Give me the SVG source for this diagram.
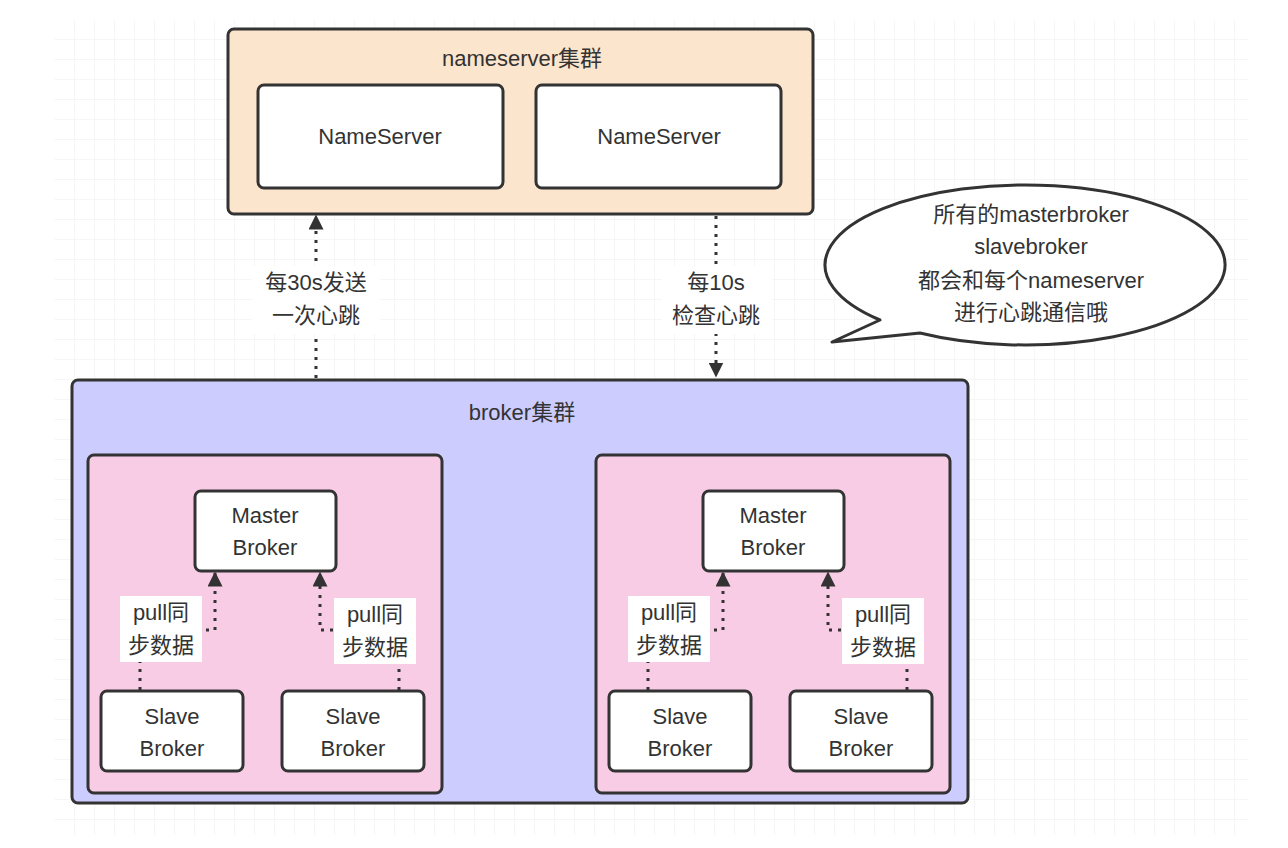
<svg xmlns="http://www.w3.org/2000/svg" width="1288" height="848" viewBox="0 0 1288 848">
<defs>
<pattern id="g" width="20" height="20" patternUnits="userSpaceOnUse" x="55" y="20"><path d="M20 0V20M0 20H20" fill="none" stroke="#ececec" stroke-width="1"/></pattern>
<marker id="a" viewBox="0 0 10 10" refX="9" refY="5" markerWidth="5" markerHeight="5" orient="auto"><path d="M0 0L10 5L0 10z" fill="#333"/></marker>
<style>
text{font-family:"Liberation Sans","Noto Sans CJK SC",sans-serif;font-size:22px;fill:#333;text-anchor:middle}
.b{stroke:#333;stroke-width:3}
.w{fill:#fff}
.c{fill:none;stroke:#333;stroke-width:3;stroke-dasharray:3 6;marker-end:url(#a)}
.lb{fill:#fff}
</style>
</defs>
<rect width="1288" height="848" fill="#fff"/>
<rect x="55" y="20" width="1193" height="815" fill="url(#g)"/>
<g id="nameserver-cluster"><rect class="b" x="228" y="29" width="585" height="185" rx="6" fill="#fce5cd"/><text x="522" y="66">nameserver集群</text></g>
<g id="ns1"><rect class="b w" x="258" y="85" width="245" height="103" rx="6"/><text x="380" y="144">NameServer</text></g>
<g id="ns2"><rect class="b w" x="536" y="85" width="245" height="103" rx="6"/><text x="659" y="144">NameServer</text></g>
<g id="broker-cluster"><rect class="b" x="72" y="380" width="896" height="423" rx="6" fill="#ccccff"/><text x="522" y="420">broker集群</text></g>
<g id="group1"><rect class="b" x="88" y="455" width="354" height="338" rx="6" fill="#f9cce6"/></g>
<g id="group2"><rect class="b" x="596" y="455" width="354" height="338" rx="6" fill="#f9cce6"/></g>
<g id="m1"><rect class="b w" x="195" y="491" width="141" height="80" rx="6"/><text x="265" y="523">Master</text><text x="265" y="555">Broker</text></g>
<g id="s1"><rect class="b w" x="101" y="691" width="142" height="80" rx="6"/><text x="172" y="724">Slave</text><text x="172" y="756">Broker</text></g>
<g id="s2"><rect class="b w" x="282" y="691" width="142" height="80" rx="6"/><text x="353" y="724">Slave</text><text x="353" y="756">Broker</text></g>
<g id="m2"><rect class="b w" x="703" y="491" width="141" height="80" rx="6"/><text x="773" y="523">Master</text><text x="773" y="555">Broker</text></g>
<g id="s3"><rect class="b w" x="609" y="691" width="142" height="80" rx="6"/><text x="680" y="724">Slave</text><text x="680" y="756">Broker</text></g>
<g id="s4"><rect class="b w" x="790" y="691" width="142" height="80" rx="6"/><text x="861" y="724">Slave</text><text x="861" y="756">Broker</text></g>
<g id="callout"><path class="b" d="M832 342 L880 320 A200 80 0 1 1 920 333 Z" fill="#fff" stroke-linejoin="round"/>
<text x="1031" y="222">所有的masterbroker</text><text x="1031" y="254">slavebroker</text><text x="1031" y="288">都会和每个nameserver</text><text x="1031" y="320">进行心跳通信哦</text></g>
<g id="connectors">
<path class="c" d="M316 378V216"/>
<path class="c" d="M716 216V376"/>
<path class="c" d="M140 690V630H215V573"/>
<path class="c" d="M399 690V630H320V573"/>
<path class="c" d="M648 690V630H723V573"/>
<path class="c" d="M907 690V630H828V573"/>
<rect class="lb" x="252" y="266" width="128" height="68"/><text x="316" y="290">每30s发送</text><text x="316" y="323">一次心跳</text>
<rect class="lb" x="662" y="266" width="110" height="68"/><text x="716" y="290">每10s</text><text x="716" y="323">检查心跳</text>
<rect class="lb" x="120" y="596" width="82" height="66"/><text x="161" y="620">pull同</text><text x="161" y="653">步数据</text>
<rect class="lb" x="334" y="598" width="82" height="66"/><text x="375" y="622">pull同</text><text x="375" y="655">步数据</text>
<rect class="lb" x="628" y="596" width="82" height="66"/><text x="669" y="620">pull同</text><text x="669" y="653">步数据</text>
<rect class="lb" x="842" y="598" width="82" height="66"/><text x="883" y="622">pull同</text><text x="883" y="655">步数据</text>
</g>
</svg>
